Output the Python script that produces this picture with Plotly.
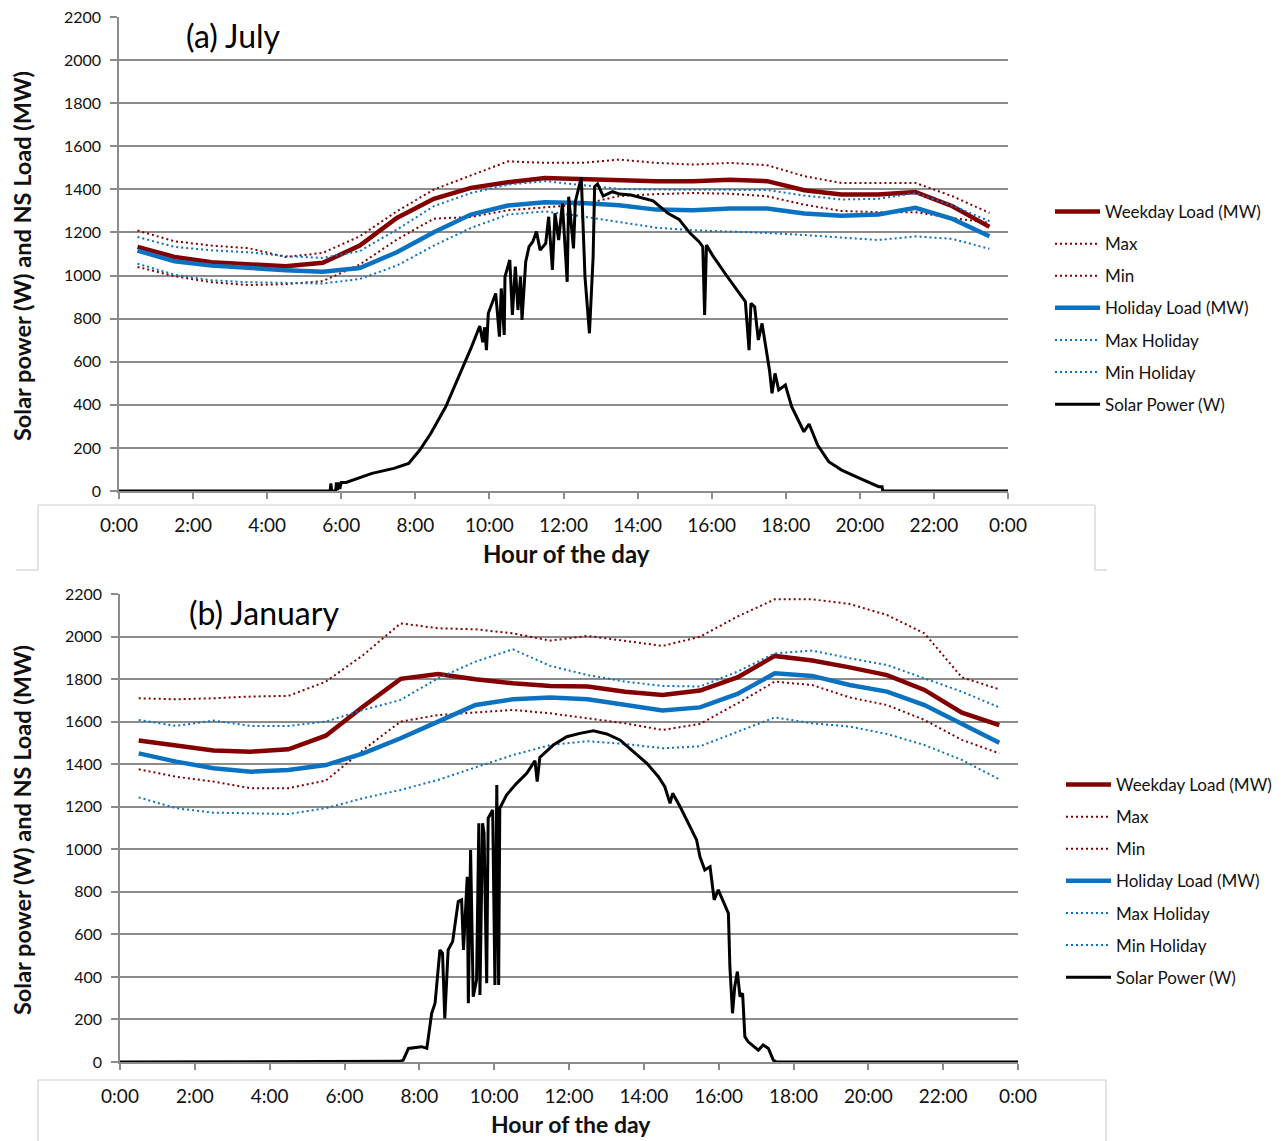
import plotly.graph_objects as go

# ---------------- data ----------------
HOURS = [0.5, 1.5, 2.5, 3.5, 4.5, 5.5, 6.5, 7.5, 8.5, 9.5, 10.5, 11.5,
         12.5, 13.5, 14.5, 15.5, 16.5, 17.5, 18.5, 19.5, 20.5, 21.5, 22.5, 23.5]

TICK_VALS = [0, 2, 4, 6, 8, 10, 12, 14, 16, 18, 20, 22, 24]
TICK_TEXT = ["0:00", "2:00", "4:00", "6:00", "8:00", "10:00", "12:00",
             "14:00", "16:00", "18:00", "20:00", "22:00", "0:00"]
Y_TICKS = [0, 200, 400, 600, 800, 1000, 1200, 1400, 1600, 1800, 2000, 2200]

# July
jul_weekday = [1133, 1086, 1062, 1051, 1043, 1059, 1139, 1267, 1356, 1407, 1433, 1453,
               1448, 1442, 1438, 1438, 1445, 1438, 1396, 1376, 1376, 1388, 1322, 1226]
jul_max = [1209, 1159, 1139, 1127, 1086, 1105, 1182, 1298, 1399, 1464, 1530, 1523,
           1523, 1538, 1523, 1515, 1523, 1512, 1461, 1430, 1430, 1430, 1368, 1291]
jul_min = [1040, 997, 969, 956, 960, 974, 1051, 1167, 1264, 1272, 1303, 1318,
           1330, 1369, 1378, 1383, 1380, 1368, 1329, 1300, 1294, 1294, 1267, 1244]
jul_holiday = [1116, 1066, 1046, 1034, 1025, 1018, 1035, 1108, 1201, 1283, 1325, 1340,
               1337, 1326, 1306, 1303, 1311, 1311, 1288, 1278, 1283, 1314, 1263, 1182]
jul_maxhol = [1179, 1133, 1117, 1108, 1090, 1082, 1113, 1213, 1322, 1383, 1422, 1438,
              1420, 1402, 1399, 1399, 1400, 1397, 1371, 1353, 1356, 1383, 1325, 1252]
jul_minhol = [1055, 1004, 978, 969, 966, 963, 984, 1046, 1139, 1221, 1283, 1298,
              1275, 1248, 1222, 1210, 1205, 1198, 1188, 1175, 1165, 1182, 1170, 1124]

jul_solar_h = [0, 5.70, 5.72, 5.74, 5.85, 5.87, 5.90, 5.93, 5.96, 6.00, 6.13, 6.50,
               6.83, 7.42, 7.82, 8.12, 8.42, 8.82, 9.22, 9.52, 9.74, 9.82, 9.87, 9.92,
               9.97, 10.17, 10.27, 10.32, 10.40, 10.42, 10.55, 10.62, 10.70, 10.77,
               10.84, 10.88, 10.98, 11.07, 11.17, 11.27, 11.37, 11.52, 11.60, 11.70,
               11.77, 11.87, 11.97, 12.10, 12.14, 12.27, 12.32, 12.48, 12.58, 12.70,
               12.80, 12.84, 12.92, 13.07, 13.32, 13.52, 13.82, 14.22, 14.42, 14.82,
               15.12, 15.42, 15.66, 15.76, 15.81, 15.86, 16.02, 16.41, 16.71, 16.91,
               17.01, 17.06, 17.16, 17.26, 17.36, 17.56, 17.63, 17.71, 17.81, 17.99,
               18.16, 18.31, 18.49, 18.63, 18.86, 19.16, 19.51, 19.91, 20.31, 20.51,
               20.60, 20.62, 24]
jul_solar = [0, 0, 35, 0, 0, 40, 5, 40, 10, 40, 40, 62,
             82, 105, 128, 190, 268, 391, 546, 670, 766, 690, 760, 654,
             825, 917, 716, 940, 724, 995, 1072, 817, 1041, 840,
             995, 794, 1064, 1134, 1157, 1204, 1118, 1149, 1273, 1026,
             1289, 1165, 1335, 971, 1366, 1126, 1343, 1456, 995, 732,
             1087, 1412, 1425, 1369, 1389, 1378, 1374, 1354, 1347, 1289,
             1261, 1196, 1157, 1134, 817, 1142, 1095, 998, 925, 879,
             654, 871, 855, 701, 778, 562, 453, 546, 469, 492,
             391, 337, 275, 311, 213, 136, 97, 66, 36, 20,
             20, 0, 0]

# January
jan_weekday = [1511, 1486, 1464, 1459, 1470, 1534, 1671, 1801, 1824, 1799, 1780, 1768,
               1765, 1741, 1725, 1746, 1808, 1909, 1887, 1855, 1819, 1749, 1642, 1584]
jan_max = [1710, 1705, 1710, 1718, 1721, 1788, 1913, 2062, 2039, 2034, 2015, 1981,
           2003, 1981, 1956, 1999, 2094, 2175, 2175, 2153, 2101, 2015, 1808, 1752]
jan_min = [1376, 1341, 1318, 1287, 1287, 1323, 1467, 1600, 1631, 1642, 1655, 1639,
           1616, 1592, 1561, 1589, 1686, 1788, 1772, 1714, 1678, 1608, 1514, 1451]
jan_holiday = [1451, 1412, 1381, 1365, 1373, 1396, 1451, 1522, 1600, 1678, 1705, 1714,
               1705, 1678, 1652, 1667, 1730, 1827, 1815, 1772, 1741, 1678, 1592, 1501]
jan_maxhol = [1608, 1580, 1605, 1580, 1580, 1600, 1655, 1702, 1804, 1882, 1940, 1862,
              1819, 1788, 1768, 1765, 1835, 1921, 1934, 1898, 1866, 1804, 1741, 1667]
jan_minhol = [1244, 1193, 1172, 1169, 1166, 1193, 1240, 1279, 1326, 1385, 1443, 1490,
              1508, 1495, 1475, 1484, 1553, 1620, 1592, 1577, 1542, 1490, 1420, 1329]

jan_solar_h = [0, 7.30, 7.48, 7.57, 7.71, 8.06, 8.20, 8.33, 8.42, 8.55, 8.62, 8.68,
               8.77, 8.89, 9.04, 9.13, 9.18, 9.28, 9.31, 9.37, 9.44, 9.53, 9.59, 9.62,
               9.69, 9.73, 9.80, 9.84, 9.96, 10.02, 10.07, 10.12, 10.15, 10.33, 10.60,
               10.87, 11.09, 11.15, 11.22, 11.58, 11.94, 12.29, 12.65, 13.01, 13.36,
               13.72, 14.08, 14.39, 14.56, 14.70, 14.77, 14.97, 15.23, 15.41, 15.50,
               15.63, 15.77, 15.88, 15.99, 16.12, 16.26, 16.30, 16.37, 16.43, 16.50,
               16.57, 16.64, 16.70, 16.79, 17.06, 17.19, 17.33, 17.46, 17.55, 24]
jan_solar = [0, 0, 3, 9, 64, 72, 64, 229, 276, 527, 511, 205,
             527, 566, 754, 762, 527, 871, 276, 997, 307, 386, 1122, 315,
             1122, 1075, 370, 1146, 1185, 362, 1302, 362, 1193, 1255, 1310,
             1357, 1416, 1318, 1432, 1490, 1529, 1545, 1557, 1542, 1514,
             1459, 1404, 1341, 1294, 1216, 1263, 1200, 1106, 1044, 965,
             903, 918, 762, 809, 754, 699, 448, 229, 354, 425,
             307, 323, 119, 95, 56, 80, 64, 9, 0, 0]

# ---------------- styling ----------------
W, H = 1288, 1141
FONT = "Lato"
RED = "#840000"
BLUE = "#0B72C2"
GRID = "#8C8C8C"
TXT = "#111111"
DOT = "2px,3px"


def px_x(p):
    return p / W


def px_y(p):
    return 1 - p / H


fig = go.Figure()

panels = [
    dict(x="x", y="y", legend="legend",
         series=[("Weekday Load (MW)", jul_weekday, RED, 4.5, "solid"),
                 ("Max", jul_max, RED, 2, DOT),
                 ("Min", jul_min, RED, 2, DOT),
                 ("Holiday Load (MW)", jul_holiday, BLUE, 4.5, "solid"),
                 ("Max Holiday", jul_maxhol, BLUE, 2, DOT),
                 ("Min Holiday", jul_minhol, BLUE, 2, DOT)],
         solar=(jul_solar_h, jul_solar)),
    dict(x="x2", y="y2", legend="legend2",
         series=[("Weekday Load (MW)", jan_weekday, RED, 4.5, "solid"),
                 ("Max", jan_max, RED, 2, DOT),
                 ("Min", jan_min, RED, 2, DOT),
                 ("Holiday Load (MW)", jan_holiday, BLUE, 4.5, "solid"),
                 ("Max Holiday", jan_maxhol, BLUE, 2, DOT),
                 ("Min Holiday", jan_minhol, BLUE, 2, DOT)],
         solar=(jan_solar_h, jan_solar)),
]

for pi, p in enumerate(panels):
    for si, (name, vals, col, wd, dash) in enumerate(p["series"]):
        fig.add_trace(go.Scatter(
            x=HOURS, y=vals, name=name, mode="lines",
            line=dict(color=col, width=wd, dash=dash),
            xaxis=p["x"], yaxis=p["y"], legend=p["legend"],
            legendgroup=f"g{pi}_{si}"))
    sh, sv = p["solar"]
    fig.add_trace(go.Scatter(
        x=sh, y=sv, name="Solar Power (W)", mode="lines",
        line=dict(color="black", width=3),
        xaxis=p["x"], yaxis=p["y"], legend=p["legend"],
        legendgroup=f"g{pi}_solar"))


def xaxis(dom_px, anchor):
    return dict(domain=[px_x(dom_px[0]), px_x(dom_px[1])], anchor=anchor,
                automargin=False,
                range=[0, 24], tickmode="array", tickvals=TICK_VALS, ticktext=TICK_TEXT,
                showgrid=False, zeroline=False, showline=True, linecolor=GRID, linewidth=1.5,
                ticks="outside", ticklen=6, tickcolor=GRID, tickwidth=1.5,
                ticklabelstandoff=10,
                tickfont=dict(family=FONT, size=19, color=TXT))


def yaxis(dom_px, anchor):
    return dict(domain=[px_y(dom_px[1]), px_y(dom_px[0])], anchor=anchor,
                automargin=False,
                range=[0, 2200], tickmode="array", tickvals=Y_TICKS,
                showgrid=True, gridcolor=GRID, gridwidth=1.5, zeroline=False,
                showline=True, linecolor=GRID, linewidth=1.5,
                ticks="outside", ticklen=7, tickcolor=GRID, tickwidth=1.5,
                ticklabelstandoff=6,
                tickfont=dict(family=FONT, size=16, color=TXT))


legend_common = dict(font=dict(family=FONT, size=17, color=TXT), bgcolor="rgba(0,0,0,0)",
                     tracegroupgap=7, itemwidth=45, xanchor="left", yanchor="top",
                     traceorder="grouped")

annotations = [
    dict(text="(a) July", x=px_x(184), y=px_y(36), xanchor="left", yanchor="middle",
         font=dict(family=FONT, size=32, color="black")),
    dict(text="(b) January", x=px_x(187), y=px_y(612), xanchor="left", yanchor="middle",
         font=dict(family=FONT, size=32, color="black")),
    dict(text="<b>Solar power (W) and NS Load (MW)</b>", x=px_x(22), y=px_y(256),
         textangle=-90, xanchor="center", yanchor="middle",
         font=dict(family=FONT, size=23.5, color=TXT)),
    dict(text="<b>Solar power (W) and NS Load (MW)</b>", x=px_x(22), y=px_y(830),
         textangle=-90, xanchor="center", yanchor="middle",
         font=dict(family=FONT, size=23.5, color=TXT)),
    dict(text="<b>Hour of the day</b>", x=px_x(566), y=px_y(553),
         xanchor="center", yanchor="middle", font=dict(family=FONT, size=24, color=TXT)),
    dict(text="<b>Hour of the day</b>", x=px_x(571), y=px_y(1124),
         xanchor="center", yanchor="middle", font=dict(family=FONT, size=23, color=TXT)),
]
for a in annotations:
    a.update(xref="paper", yref="paper", showarrow=False)

BOX = "#D0D0D0"


def seg(x0, y0, x1, y1):
    return dict(type="line", xref="paper", yref="paper",
                x0=px_x(x0), y0=px_y(y0), x1=px_x(x1), y1=px_y(y1),
                line=dict(color=BOX, width=1.2))


shapes = [
    seg(38, 505, 1095, 505), seg(38, 505, 38, 570), seg(1095, 505, 1095, 570),
    seg(16, 570, 38, 570), seg(1095, 570, 1107, 570),
    seg(38, 1080, 1106, 1080), seg(38, 1080, 38, 1141), seg(1106, 1080, 1106, 1141),
]

fig.update_layout(
    width=W, height=H, margin=dict(l=0, r=0, t=0, b=0, autoexpand=False),
    paper_bgcolor="white", plot_bgcolor="white",
    xaxis=xaxis((119, 1008), "y"), yaxis=yaxis((17, 491), "x"),
    xaxis2=xaxis((120, 1018), "y2"), yaxis2=yaxis((594, 1062), "x2"),
    legend=dict(x=px_x(1050), y=px_y(194), **legend_common),
    legend2=dict(x=px_x(1061), y=px_y(767), **legend_common),
    annotations=annotations, shapes=shapes, showlegend=True,
)

fig.write_html("out.html")
